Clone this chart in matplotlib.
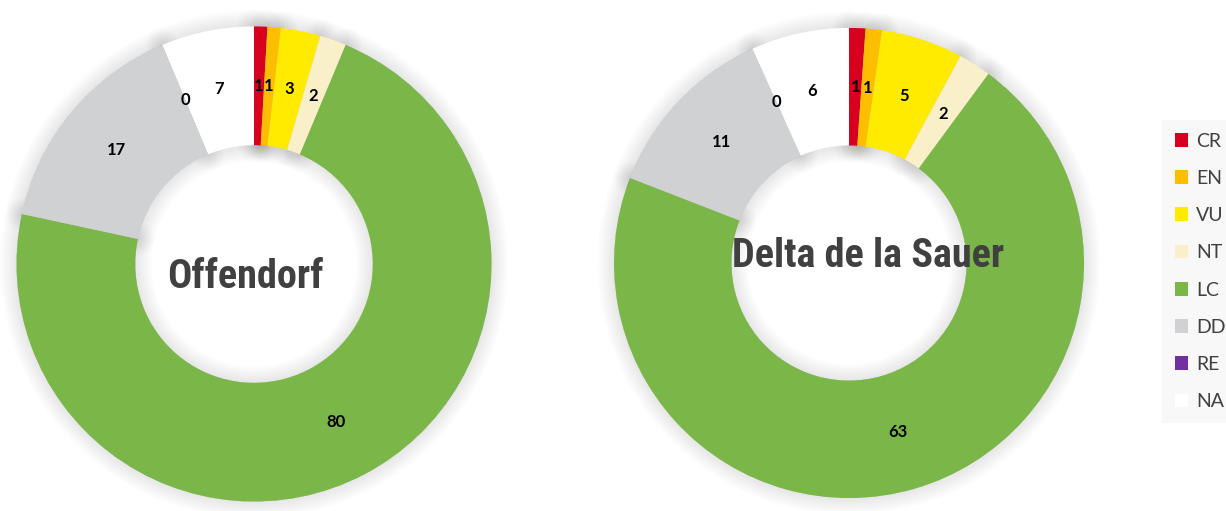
import matplotlib
matplotlib.use("Agg")
import matplotlib.pyplot as plt
import matplotlib.patheffects as pe

# IUCN red list categories and species counts per site
categories = ["CR", "EN", "VU", "NT", "LC", "DD", "RE", "NA"]
offendorf = [1, 1, 3, 2, 80, 17, 0, 7]
delta_sauer = [1, 1, 5, 2, 63, 11, 0, 6]
colors = ["#d7001e", "#fdbe00", "#ffeb00", "#f9f0ca", "#7ab648", "#d0d1d3", "#7030a0", "#ffffff"]

W, H = 1226, 511
fig = plt.figure(figsize=(W / 100, H / 100), dpi=100)
ax = fig.add_axes([0, 0, 1, 1])

# soft glow around each wedge, many faint round-joined strokes stacked
glow = [pe.Stroke(linewidth=lw, foreground="black", alpha=0.008, joinstyle="round")
        for lw in range(2, 26, 2)]


def donut(values, cx, cy, radius, explode, title, tx, ty):
    total = sum(values)
    common = dict(radius=radius, center=(cx, cy), startangle=90, counterclock=False,
                  explode=[explode] * len(values), colors=colors,
                  wedgeprops=dict(width=radius / 2, linewidth=0))
    # shadow layer first, then the real wedges on top of it
    shadow = ax.pie(values, **common)[0]
    for w in shadow:
        w.set_path_effects(glow)
    wedges, _, autotexts = ax.pie(values, autopct=lambda p: f"{p * total / 100:.0f}",
                                  pctdistance=0.75, **common)
    for t in autotexts:
        t.set_fontsize(12)
        t.set_fontweight("bold")
        t.set_color("black")
        t.set_family(["Lato", "DejaVu Sans"])
    ax.text(tx, ty, title, ha="center", va="baseline", fontsize=29, fontweight="bold",
            color="#404040",
            family=["Roboto Condensed", "Open Sans Condensed", "Arial Narrow", "Roboto"])
    return wedges


wedges = donut(offendorf, 254, H - 264, 237.5, 0.058, "Offendorf", 245, H - 288)
donut(delta_sauer, 849, H - 263, 235, 0.057, "Delta de la Sauer", 868, H - 267)

ax.set_xlim(0, W)
ax.set_ylim(0, H)
ax.set_aspect("equal")
ax.axis("off")

leg = fig.legend(wedges, categories, loc="upper left", bbox_to_anchor=(1162 / W, 1 - 120 / H),
                 frameon=True, fancybox=False, facecolor="#f7f7f7", edgecolor="none",
                 handlelength=0.7, handleheight=0.7, handletextpad=0.4,
                 labelspacing=1.04, borderpad=0.65, borderaxespad=0,
                 prop=dict(family="Lato", size=14))
for t in leg.get_texts():
    t.set_color("#404040")

fig.savefig("out.png", dpi=100)
